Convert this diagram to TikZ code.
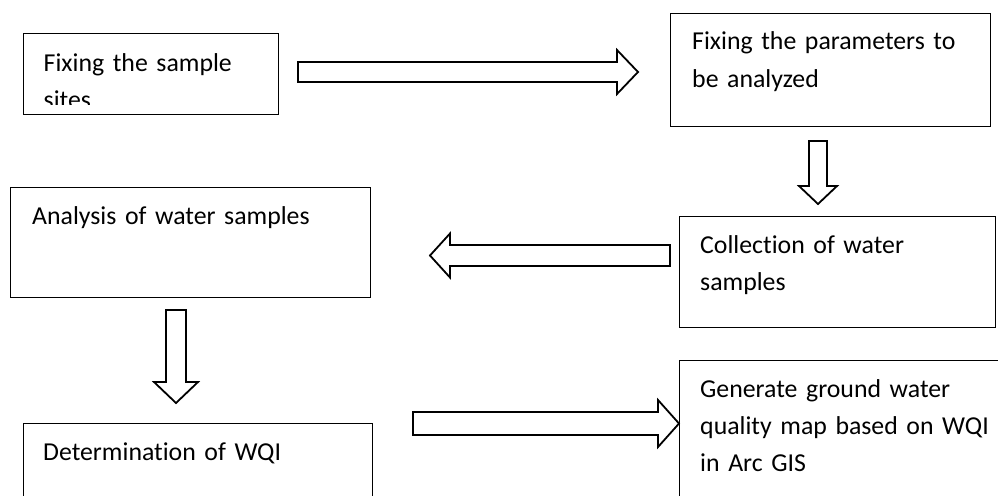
\documentclass[tikz,border=0pt]{standalone}
\usepackage{fontspec}
\setmainfont{Carlito}[Ligatures=NoCommon,WordSpace=0.7]
\usetikzlibrary{calc}

% hollow block arrow from #1 to #2: half shaft #3, half head #4, head length #5
\newcommand{\fatarrow}[5]{%
  \path ($(#2)!#5!(#1)$) coordinate (hd);
  \draw[fat] ($(#1)!#3!90:(#2)$) -- ($(hd)!#3!-90:(#1)$) -- ($(hd)!#4!-90:(#1)$) -- (#2)
    -- ($(hd)!#4!90:(#1)$) -- ($(hd)!#3!90:(#1)$) -- ($(#1)!#3!-90:(#2)$) -- cycle;}

\begin{document}
\begin{tikzpicture}[x=1pt,y=-1pt,
  box/.style={draw,line width=1.3pt,anchor=north west,inner sep=0pt},
  txt/.style={anchor=base west,inner sep=0pt,align=left,text width=320pt,
    font=\fontsize{25.8}{37}\selectfont},
  fat/.style={draw,fill=white,line width=1.8pt,line join=miter}]
  \clip (0,0) rectangle (998,495);
  \node[box, minimum width=255pt, minimum height=81pt] (sites) at (23,33) {};
  \node[box, minimum width=320pt, minimum height=113pt] (params) at (670,13) {};
  \node[box, minimum width=316pt, minimum height=111pt] (collect) at (679,216) {};
  \node[box, minimum width=360pt, minimum height=110pt] (analysis) at (10,187) {};
  \node[box, minimum width=349pt, minimum height=80pt] (wqi) at (23,423) {};
  \node[box, minimum width=318.5pt, minimum height=140pt] (gismap) at (679,360) {};
  \begin{scope}
    \clip (sites.north west) rectangle ([shift={(0,-11)}]sites.south east);
    \node[txt] (t-sites) at ([shift={(20.5,38.5)}]sites.north west) {Fixing the sample\\sites};
  \end{scope}
  \node[txt] (t-params) at ([shift={(22,37)}]params.north west) {Fixing the parameters to\\be analyzed};
  \node[txt] (t-collect) at ([shift={(21,37)}]collect.north west) {Collection of water\\samples};
  \node[txt] (t-analysis) at ([shift={(22,37)}]analysis.north west) {Analysis of water samples};
  \node[txt] (t-wqi) at ([shift={(20,37)}]wqi.north west) {Determination of WQI};
  \node[txt] (t-gismap) at ([shift={(21,37)}]gismap.north west) {Generate ground water\\quality map based on WQI\\in Arc GIS};
  \coordinate (a1s) at (298,72);    \coordinate (a1e) at (638,72);
  \coordinate (a2s) at (818,141);   \coordinate (a2e) at (818,204);
  \coordinate (a3s) at (670,255.5); \coordinate (a3e) at (430,255.5);
  \coordinate (a4s) at (176,310);   \coordinate (a4e) at (176,403);
  \coordinate (a5s) at (413,423.5); \coordinate (a5e) at (679,423.5);
  \fatarrow{a1s}{a1e}{10pt}{22pt}{21pt}
  \fatarrow{a2s}{a2e}{9pt}{19pt}{18pt}
  \fatarrow{a3s}{a3e}{10.5pt}{22pt}{20pt}
  \fatarrow{a4s}{a4e}{10pt}{22pt}{21pt}
  \fatarrow{a5s}{a5e}{11.5pt}{23.5pt}{21pt}
\end{tikzpicture}
\end{document}
